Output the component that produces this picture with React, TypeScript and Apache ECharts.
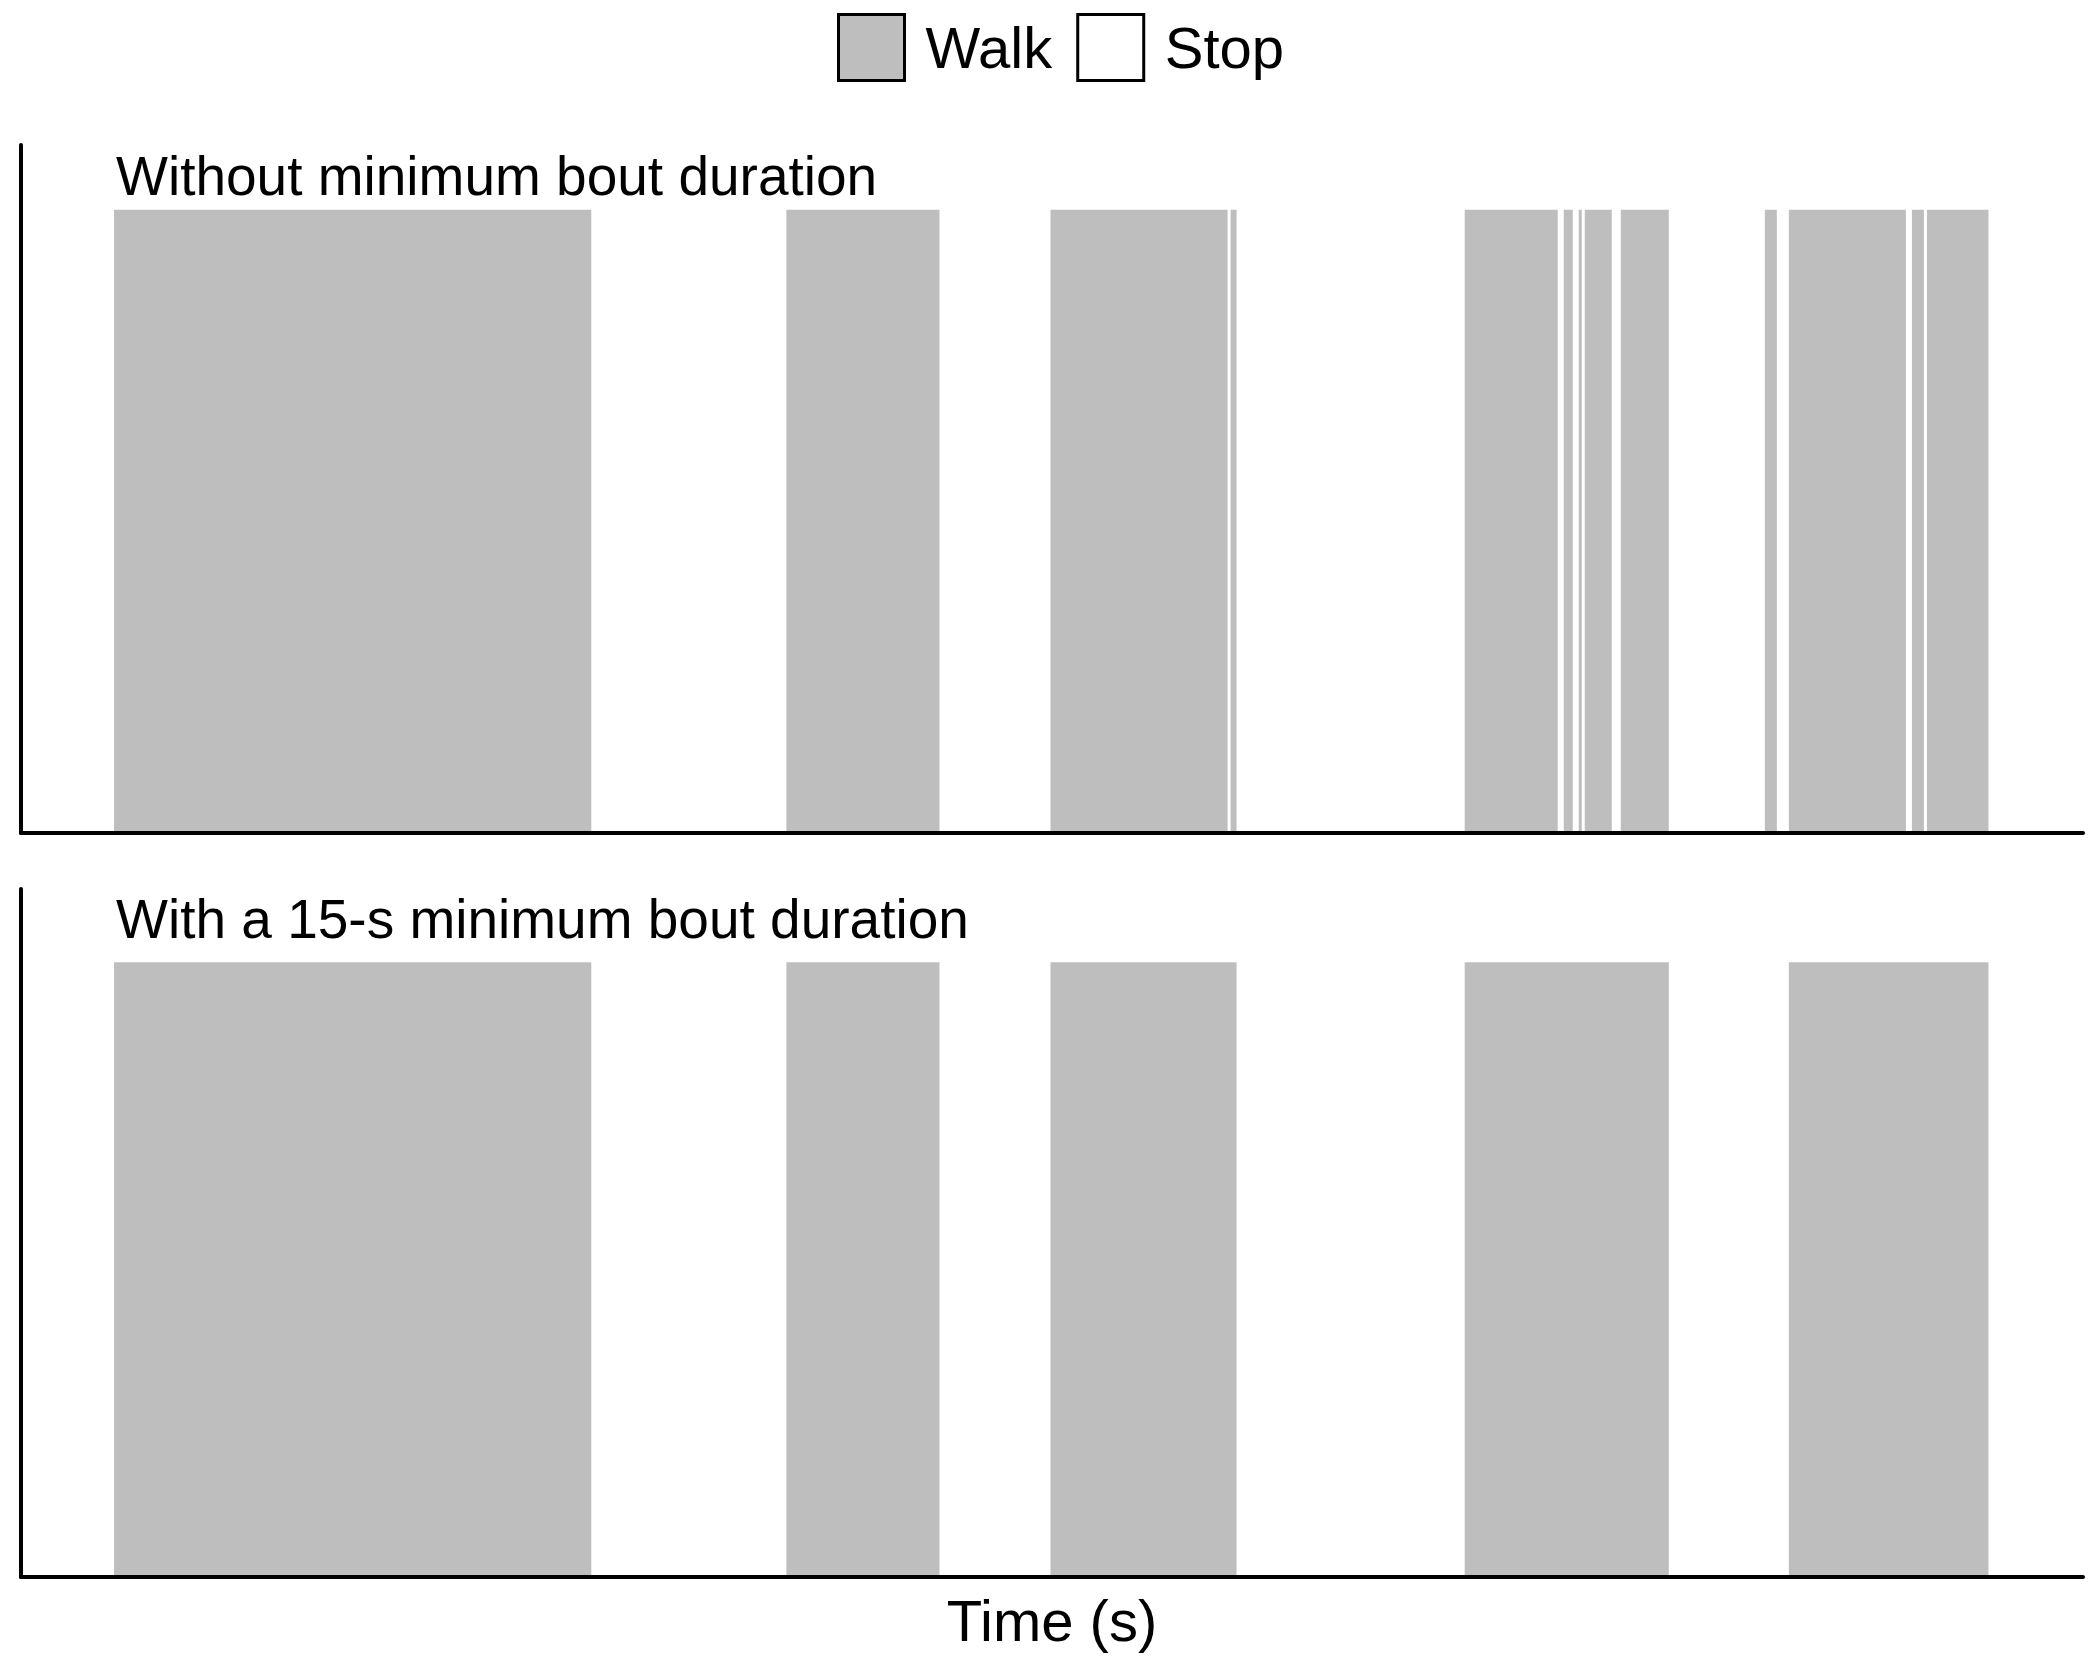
import React, { useEffect, useRef } from "react";
import * as echarts from "echarts";

// Walking bouts (seconds), without a minimum bout duration
const rawWalkStart = [31, 255, 343, 403, 481, 514, 519, 521, 533, 581, 589, 630, 635];
const rawWalkEnd = [190, 306, 402, 405, 512, 517, 520, 530, 549, 585, 628, 634, 655.5];
// Walking bouts (seconds), with a 15-s minimum bout duration
const minWalkStart = [31, 255, 343, 481, 589];
const minWalkEnd = [190, 306, 405, 549, 655.5];

const timeMax = 687;
const panelTitles = ["Without minimum bout duration", "With a 15-s minimum bout duration"];
const legendNames = ["Walk", "Stop"];
const xAxisName = "Time (s)";

const FONT = "'Liberation Sans', Arial, sans-serif";
const WALK = "#BEBEBE";

function renderBout(params: any, api: any) {
  const p0 = api.coord([api.value(0), 0]);
  const p1 = api.coord([api.value(1), 1]);
  return {
    type: "rect",
    shape: { x: p0[0], y: p1[1], width: p1[0] - p0[0], height: p0[1] - p1[1] },
    style: { fill: WALK },
  };
}

export default function App() {
  const ref = useRef<HTMLDivElement>(null);
  useEffect(() => {
    document.body.style.margin = "0";
    const chart = echarts.init(ref.current!, null, { renderer: "svg" });
    const axisLine = { show: true, lineStyle: { color: "#000", width: 4 } };
    const mkX = (gi: number, withName: boolean) => ({
      type: "value",
      gridIndex: gi,
      min: 0,
      max: timeMax,
      z: 10,
      axisLine,
      axisTick: { show: false },
      axisLabel: { show: false },
      splitLine: { show: false },
      name: withName ? xAxisName : "",
      nameLocation: "middle",
      nameGap: 14,
      nameTextStyle: { fontSize: 58, fontFamily: FONT, color: "#000", verticalAlign: "top" },
    });
    const mkY = (gi: number, max: number) => ({
      type: "value",
      gridIndex: gi,
      min: 0,
      max,
      z: 10,
      axisLine,
      axisTick: { show: false },
      axisLabel: { show: false },
      splitLine: { show: false },
    });
    chart.setOption({
      animation: false,
      backgroundColor: "#fff",
      textStyle: { fontFamily: FONT },
      title: panelTitles.map((t, i) => ({
        text: t,
        left: 116,
        top: i === 0 ? 148 : 891,
        padding: 0,
        textStyle: { fontSize: 55, fontWeight: "normal", color: "#000", fontFamily: FONT },
      })),
      legend: {
        left: 837,
        top: 13,
        padding: 0,
        itemWidth: 66,
        itemHeight: 66,
        itemGap: 24,
        icon: "rect",
        selectedMode: false,
        textStyle: { fontSize: 58, color: "#000", fontFamily: FONT, padding: [0, 0, 0, 16] },
        data: [
          { name: legendNames[0], itemStyle: { color: WALK, borderColor: "#000", borderWidth: 3 } },
          { name: legendNames[1], itemStyle: { color: "#fff", borderColor: "#000", borderWidth: 3 } },
        ],
      },
      grid: [
        { left: 21, width: 2062, top: 145, height: 688 },
        { left: 21, width: 2062, top: 889, height: 688 },
      ],
      xAxis: [mkX(0, false), mkX(1, true)],
      yAxis: [mkY(0, 1.104), mkY(1, 1.119)],
      series: [
        {
          name: legendNames[0],
          type: "custom",
          xAxisIndex: 0,
          yAxisIndex: 0,
          renderItem: renderBout,
          itemStyle: { color: WALK },
          encode: { x: [0, 1] },
          data: rawWalkStart.map((s, i) => [s, rawWalkEnd[i]]),
        },
        {
          name: legendNames[0],
          type: "custom",
          xAxisIndex: 1,
          yAxisIndex: 1,
          renderItem: renderBout,
          itemStyle: { color: WALK },
          encode: { x: [0, 1] },
          data: minWalkStart.map((s, i) => [s, minWalkEnd[i]]),
        },
        {
          name: legendNames[1],
          type: "custom",
          xAxisIndex: 0,
          yAxisIndex: 0,
          renderItem: () => null,
          itemStyle: { color: "#fff" },
          data: [],
        },
      ],
    });
    return () => chart.dispose();
  }, []);
  return <div ref={ref} style={{ width: 2100, height: 1667 }} />;
}
